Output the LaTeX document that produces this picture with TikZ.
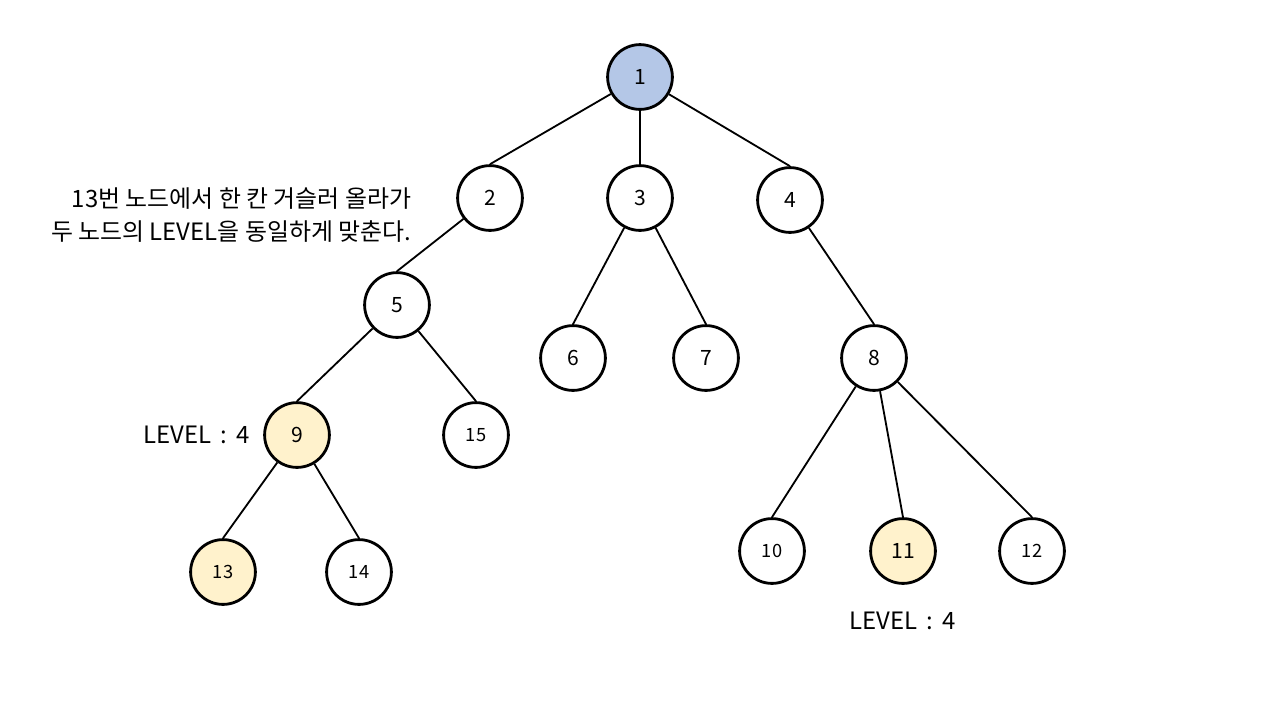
\documentclass[tikz,border=0pt]{standalone}
\usepackage{fontspec}
\setmainfont{Noto Sans CJK KR}
\usepackage{tikz}
\usetikzlibrary{positioning}
\definecolor{rootblue}{HTML}{B4C7E7}
\definecolor{hlyellow}{HTML}{FFF2CC}

\begin{document}
\begin{tikzpicture}[
  vtx/.style={draw,circle,line width=2pt,minimum size=1.62cm,inner sep=0pt,font=\fontsize{15}{18}\selectfont,fill=white},
  small/.style={font=\fontsize{13}{16}\selectfont},
  hl/.style={fill=hlyellow},
  edge/.style={line width=1.3pt},
  lbl/.style={font=\fontsize{17}{23}\selectfont}]
\useasboundingbox (0,0) rectangle (32,-18);
\node[vtx,fill=rootblue] (n1) at (16,-1.925) {1};
\node[vtx] (n2) at (12.25,-4.95) {2};
\node[vtx] (n3) at (16,-4.95) {3};
\node[vtx] (n4) at (19.75,-5.0) {4};
\node[vtx] (n5) at (9.925,-7.625) {5};
\node[vtx] (n6) at (14.325,-8.95) {6};
\node[vtx] (n7) at (17.65,-8.95) {7};
\node[vtx] (n8) at (21.85,-8.95) {8};
\node[vtx,hl] (n9) at (7.425,-10.875) {9};
\node[vtx,small] (n15) at (11.9,-10.875) {15};
\node[vtx,small,hl] (n13) at (5.575,-14.3) {13};
\node[vtx,small] (n14) at (8.975,-14.3) {14};
\node[vtx,small] (n10) at (19.3,-13.775) {10};
\node[vtx,hl] (n11) at (22.575,-13.775) {11};
\node[vtx,small] (n12) at (25.8,-13.775) {12};
% edges
\foreach \a/\b in {n1/n2,n1/n3,n1/n4,n2/n5,n3/n6,n3/n7,n4/n8,n5/n9,n5/n15,n9/n13,n9/n14,n8/n10,n8/n11,n8/n12}
  \draw[edge] (\a) -- (\b.north);
% labels
\node[lbl,anchor=east,align=right] (note) at (10.4,-5.375) {13번 노드에서 한 칸 거슬러 올라가\\두 노드의 LEVEL을 동일하게 맞춘다.};
\node[lbl,left=0.2cm of n9] (lv9) {LEVEL \,:\, 4};
\node[lbl,below=0.55cm of n11] (lv11) {LEVEL \,:\, 4};
\end{tikzpicture}
\end{document}
